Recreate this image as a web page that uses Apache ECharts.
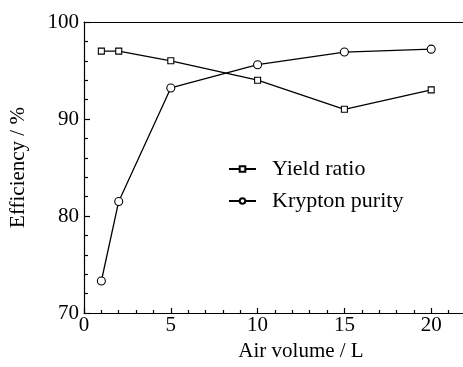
<!DOCTYPE html>
<html>
<head>
<meta charset="utf-8">
<script src="https://cdn.jsdelivr.net/npm/echarts@6/dist/echarts.min.js"></script>
<style>html,body{margin:0;padding:0;background:#fff}#c{width:463px;height:367px}</style>
</head>
<body>
<div id="c"></div>
<script>
const airVolume = [1, 2, 5, 10, 15, 20];
const yieldRatio = [97.0, 97.0, 96.0, 94.0, 91.0, 93.0];
const kryptonPurity = [73.3, 81.5, 93.2, 95.6, 96.9, 97.2];
const xTicks = [0, 5, 10, 15, 20];
const yTicks = [70, 80, 90, 100];

const font = 'Liberation Serif';
const chart = echarts.init(document.getElementById('c'));
const pairs = arr => airVolume.map((x, i) => [x, arr[i]]);
chart.setOption({
  backgroundColor: '#fff',
  animation: false,
  grid: { left: 84, top: 22, width: 434, height: 291, outerBoundsMode: 'none', containLabel: false },
  legend: {
    orient: 'vertical', left: 223, top: 153, itemGap: 10,
    itemWidth: 27, itemHeight: 7,
    textStyle: { fontFamily: font, fontSize: 22, color: '#000', padding: [0, 0, 0, 11] },
    data: ['Yield ratio', 'Krypton purity']
  },
  xAxis: [{
    type: 'value', min: 0, max: 25, interval: 5,
    name: 'Air volume / L', nameLocation: 'middle', nameGap: 28,
    nameTextStyle: { fontFamily: font, fontSize: 21, color: '#000' },
    axisLine: { lineStyle: { color: '#000', width: 1.2 } },
    axisTick: { inside: true, length: 5, lineStyle: { color: '#000', width: 1.2 } },
    minorTick: { show: true, splitNumber: 5, length: 3, lineStyle: { color: '#000', width: 1.2 } },
    axisLabel: { fontFamily: font, fontSize: 21, color: '#000', margin: 2,
      formatter: v => xTicks.includes(v) ? String(v) : '' },
    splitLine: { show: false }
  }, {
    type: 'value', position: 'top', min: 0, max: 25,
    axisLine: { show: true, lineStyle: { color: '#000', width: 1.2 } },
    axisTick: { show: false }, axisLabel: { show: false }, splitLine: { show: false }
  }],
  yAxis: {
    type: 'value', min: 70, max: 100, interval: 10,
    name: 'Efficiency / %', nameLocation: 'middle', nameGap: 55,
    nameTextStyle: { fontFamily: font, fontSize: 21, color: '#000' },
    axisLine: { show: true, lineStyle: { color: '#000', width: 1.2 } },
    axisTick: { inside: true, length: 6, lineStyle: { color: '#000', width: 1.2 } },
    minorTick: { show: true, splitNumber: 5, length: 4, lineStyle: { color: '#000', width: 1.2 } },
    axisLabel: { fontFamily: font, fontSize: 21, color: '#000', margin: 5,
      formatter: v => yTicks.includes(v) ? String(v) : '' },
    splitLine: { show: false }
  },
  series: [{
    name: 'Yield ratio', type: 'line', data: pairs(yieldRatio),
    symbol: 'rect', symbolSize: 6,
    lineStyle: { color: '#000', width: 1.3 },
    itemStyle: { color: '#fff', borderColor: '#000', borderWidth: 1.1 }
  }, {
    name: 'Krypton purity', type: 'line', data: pairs(kryptonPurity),
    symbol: 'circle', symbolSize: 8,
    lineStyle: { color: '#000', width: 1.3 },
    itemStyle: { color: '#fff', borderColor: '#000', borderWidth: 1.1 }
  }]
});
</script>
</body>
</html>
